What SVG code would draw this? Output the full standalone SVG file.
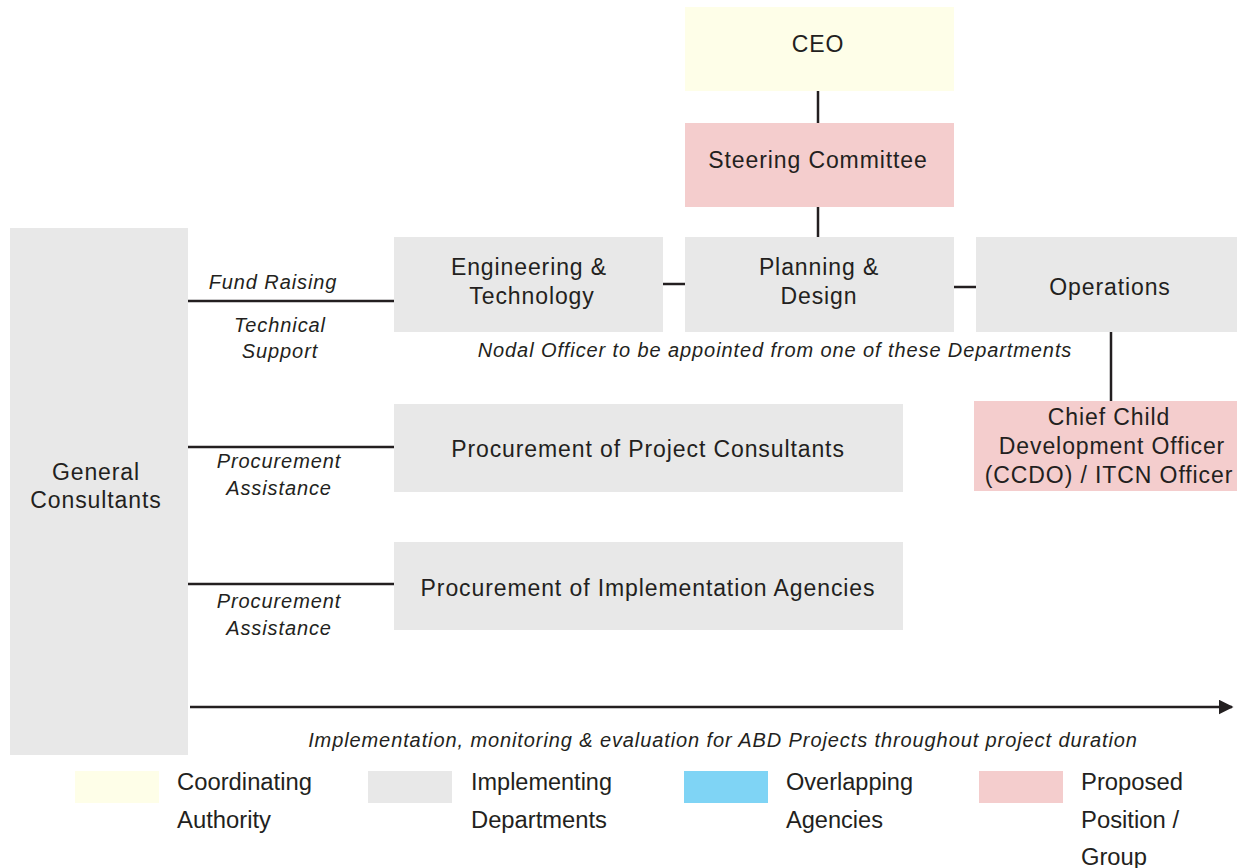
<svg xmlns="http://www.w3.org/2000/svg" width="1237" height="868" viewBox="0 0 1237 868">
<defs>
<style>
.t{font-family:"Liberation Sans",Arial,sans-serif;font-size:23px;letter-spacing:0.9px;fill:#231f20;text-anchor:middle}
.i{font-family:"Liberation Sans",Arial,sans-serif;font-size:20px;letter-spacing:0.9px;font-style:italic;fill:#231f20;text-anchor:middle}
.l{font-family:"Liberation Sans",Arial,sans-serif;font-size:23px;fill:#231f20}
.y{fill:#fefee8}.g{fill:#e8e8e8}.p{fill:#f4cdcd}.b{fill:#7fd4f5}
.c{stroke:#231f20;stroke-width:2.5;fill:none}
</style>
<marker id="ah" viewBox="0 0 10 10" refX="9" refY="5" markerWidth="6" markerHeight="6" orient="auto" markerUnits="strokeWidth"><path d="M0,0 L10,5 L0,10 Z" fill="#231f20"/></marker>
</defs>
<rect width="1237" height="868" fill="#fff"/>
<g id="connectors">
<line class="c" x1="818" y1="91" x2="818" y2="123"/>
<line class="c" x1="818" y1="207" x2="818" y2="237"/>
<line class="c" x1="663" y1="284" x2="685" y2="284"/>
<line class="c" x1="954" y1="287" x2="976" y2="287"/>
<line class="c" x1="1111" y1="332" x2="1111" y2="401"/>
<line class="c" x1="185" y1="301" x2="394" y2="301"/>
<line class="c" x1="185" y1="447" x2="394" y2="447"/>
<line class="c" x1="185" y1="584" x2="394" y2="584"/>
<line class="c" x1="190" y1="707" x2="1232" y2="707" marker-end="url(#ah)"/>
<text class="i" x="273" y="289">Fund Raising</text>
<text class="i" x="280" y="332">Technical</text>
<text class="i" x="280" y="358">Support</text>
<text class="i" x="279" y="468">Procurement</text>
<text class="i" x="279" y="495">Assistance</text>
<text class="i" x="279" y="608">Procurement</text>
<text class="i" x="279" y="635">Assistance</text>
<text class="i" x="775" y="357">Nodal Officer to be appointed from one of these Departments</text>
<text class="i" x="723" y="747">Implementation, monitoring &amp; evaluation for ABD Projects throughout project duration</text>
</g>
<g id="ceo"><rect class="y" x="685" y="7" width="269" height="84"/><text class="t" x="818" y="52">CEO</text></g>
<g id="steering"><rect class="p" x="685" y="123" width="269" height="84"/><text class="t" x="818" y="168">Steering Committee</text></g>
<g id="engineering"><rect class="g" x="394" y="237" width="269" height="95"/><text class="t" x="529" y="275">Engineering &amp;</text><text class="t" x="532" y="304">Technology</text></g>
<g id="planning"><rect class="g" x="685" y="237" width="269" height="95"/><text class="t" x="819" y="275">Planning &amp;</text><text class="t" x="819" y="304">Design</text></g>
<g id="operations"><rect class="g" x="976" y="237" width="261" height="95"/><text class="t" x="1110" y="295">Operations</text></g>
<g id="general"><rect class="g" x="10" y="228" width="178" height="527"/><text class="t" x="96" y="480">General</text><text class="t" x="96" y="508">Consultants</text></g>
<g id="proc-consultants"><rect class="g" x="394" y="404" width="509" height="88"/><text class="t" x="648" y="457">Procurement of Project Consultants</text></g>
<g id="proc-agencies"><rect class="g" x="394" y="542" width="509" height="88"/><text class="t" x="648" y="596">Procurement of Implementation Agencies</text></g>
<g id="ccdo"><rect class="p" x="974" y="401" width="263" height="90"/><text class="t" x="1109" y="425">Chief Child</text><text class="t" x="1112" y="454">Development Officer</text><text class="t" x="1109" y="483">(CCDO) / ITCN Officer</text></g>
<g id="legend">
<rect class="y" x="75" y="771" width="84" height="32"/>
<rect class="g" x="368" y="771" width="84" height="32"/>
<rect class="b" x="684" y="771" width="84" height="32"/>
<rect class="p" x="979" y="771" width="84" height="32"/>
<text class="l" x="177" y="790" textLength="135" lengthAdjust="spacingAndGlyphs">Coordinating</text>
<text class="l" x="177" y="828" textLength="94" lengthAdjust="spacingAndGlyphs">Authority</text>
<text class="l" x="471" y="790" textLength="141" lengthAdjust="spacingAndGlyphs">Implementing</text>
<text class="l" x="471" y="828" textLength="136" lengthAdjust="spacingAndGlyphs">Departments</text>
<text class="l" x="786" y="790" textLength="127" lengthAdjust="spacingAndGlyphs">Overlapping</text>
<text class="l" x="786" y="828" textLength="97" lengthAdjust="spacingAndGlyphs">Agencies</text>
<text class="l" x="1081" y="790" textLength="102" lengthAdjust="spacingAndGlyphs">Proposed</text>
<text class="l" x="1081" y="828" textLength="98" lengthAdjust="spacingAndGlyphs">Position /</text>
<text class="l" x="1081" y="865" textLength="66" lengthAdjust="spacingAndGlyphs">Group</text>
</g>
</svg>
